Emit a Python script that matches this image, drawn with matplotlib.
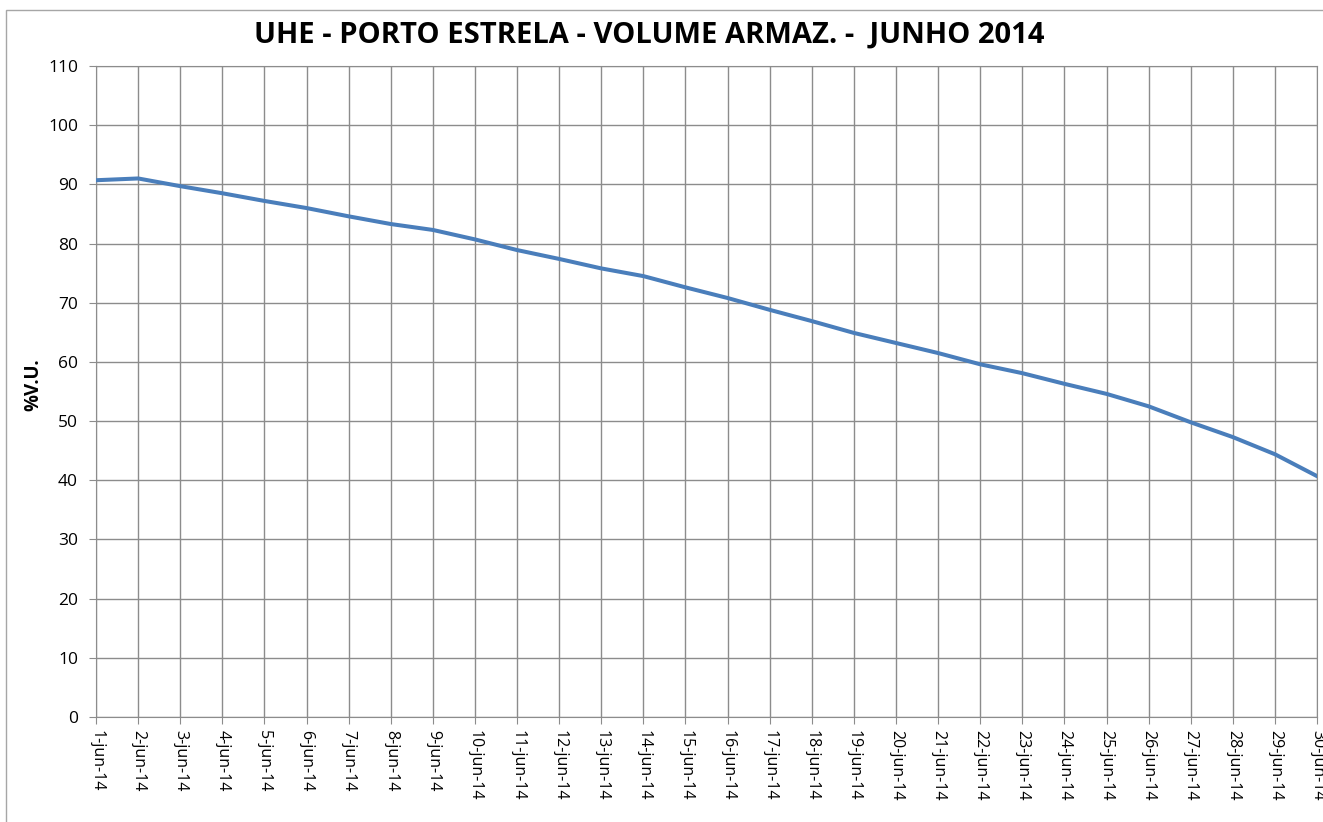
import matplotlib
matplotlib.use('Agg')
import matplotlib.pyplot as plt
from matplotlib.patches import Rectangle

LINE_COLOR = '#4A7EBB'
GRID_COLOR = '#8C8C8C'

days = list(range(1, 31))
day_labels = [f'{d}-jun-14' for d in days]
volume = [90.7, 91.0, 89.7, 88.5, 87.2, 86.0, 84.6, 83.3, 82.3, 80.7,
          78.9, 77.4, 75.8, 74.5, 72.6, 70.8, 68.8, 66.9, 64.9, 63.2,
          61.5, 59.6, 58.1, 56.3, 54.6, 52.5, 49.8, 47.3, 44.4, 40.7]

plt.rcParams['font.family'] = ['Open Sans', 'DejaVu Sans']

figure = plt.figure(figsize=(13.23, 8.22), dpi=100, facecolor='white')
axes = figure.add_axes([0.0726, 0.1277, 0.9229, 0.7920])

# outer chart frame, like the spreadsheet chart area
figure.patches.append(Rectangle((0.0045, -0.01), 1.0, 0.998, transform=figure.transFigure,
                                fill=False, edgecolor='#A6A6A6', linewidth=1.0))

axes.plot(days, volume, color=LINE_COLOR, linewidth=2.9, solid_joinstyle='round', zorder=3)

axes.set_xlim(1, 30)
axes.set_ylim(0, 110)
axes.set_yticks(range(0, 111, 10))
axes.set_xticks(days)
axes.set_xticklabels(day_labels, rotation=-90, fontsize=11.5)
axes.tick_params(axis='y', labelsize=12.5, length=5, color=GRID_COLOR, pad=8)
axes.tick_params(axis='x', length=5, color=GRID_COLOR, pad=4)

axes.grid(True, color=GRID_COLOR, linewidth=1.0)
for side in ['top', 'right', 'left', 'bottom']:
    axes.spines[side].set_color(GRID_COLOR)

axes.set_ylabel('%V.U.', fontsize=13.5, fontweight='bold', labelpad=3)
axes.yaxis.label.set_y(0.51)
figure.text(0.491, 0.957, 'UHE - PORTO ESTRELA - VOLUME ARMAZ. -  JUNHO 2014',
            ha='center', va='center', fontsize=21, fontweight='bold')

figure.savefig('out.png', dpi=100)
